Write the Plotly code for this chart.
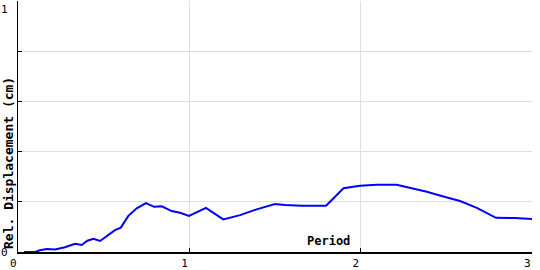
import plotly.graph_objects as go

period = [0.035, 0.1, 0.128, 0.167, 0.216, 0.274, 0.333, 0.372, 0.405, 0.44, 0.479,
          0.537, 0.566, 0.6, 0.644, 0.693, 0.747, 0.794, 0.839, 0.897, 0.946, 0.998,
          1.097, 1.198, 1.296, 1.393, 1.5, 1.559, 1.656, 1.798, 1.9, 1.996, 2.094,
          2.21, 2.288, 2.386, 2.483, 2.58, 2.678, 2.79, 2.9, 3.0]
rel_disp = [0, 0, 0.007, 0.012, 0.01, 0.019, 0.033, 0.028, 0.045, 0.053, 0.044,
            0.073, 0.087, 0.097, 0.144, 0.174, 0.195, 0.18, 0.182, 0.163, 0.156, 0.144,
            0.176, 0.13, 0.147, 0.17, 0.191, 0.187, 0.184, 0.184, 0.254, 0.264, 0.268,
            0.268, 0.256, 0.24, 0.221, 0.203, 0.176, 0.136, 0.135, 0.131]

x_ticks = [0, 1, 2, 3]
x_ticklabels = ["0", "1", "2", "3"]
y_grid = [0, 0.2, 0.4, 0.6, 0.8, 1.0]
y_ticklabels = {"0": 0, "1": 1}

FONT = "DejaVu Sans Mono"

fig = go.Figure()
fig.add_trace(go.Scatter(x=period, y=rel_disp, mode="lines",
                         line=dict(color="#0000FF", width=2), hoverinfo="skip"))

annotations = [
    dict(text="<b>Rel. Displacement (cm)</b>", xref="paper", yref="paper",
         x=-10 / 514, y=1 / 251, xanchor="center", yanchor="bottom", textangle=-90,
         showarrow=False, font=dict(family=FONT, size=13, color="black")),
    dict(text="<b>Period</b>", xref="x", yref="paper", x=1.95, y=11 / 251,
         xanchor="right", yanchor="middle", showarrow=False,
         font=dict(family=FONT, size=12, color="black")),
]
for lbl, val in y_ticklabels.items():
    annotations.append(dict(
        text=lbl, xref="paper", yref="y", x=(-8 if val == 1 else -8) / 514, y=val,
        xanchor="right", yanchor="top" if val == 1 else "middle", showarrow=False,
        font=dict(family=FONT, size=11, color="black")))

fig.update_layout(
    width=540, height=270,
    margin=dict(l=18, r=8, t=1, b=18),
    paper_bgcolor="white", plot_bgcolor="white",
    showlegend=False,
    font=dict(family=FONT, size=11, color="black"),
    annotations=annotations,
    xaxis=dict(range=[0, 3], tickvals=x_ticks, ticktext=x_ticklabels,
               ticks="inside", ticklen=4, tickcolor="black",
               ticklabelposition="outside left",
               showgrid=True, gridcolor="#dddddd", gridwidth=1,
               showline=True, linecolor="black", linewidth=2,
               zeroline=False, fixedrange=True),
    yaxis=dict(range=[0, 1], tickvals=y_grid, showticklabels=False,
               ticks="inside", ticklen=4, tickcolor="black",
               showgrid=True, gridcolor="#dddddd", gridwidth=1,
               showline=True, linecolor="black", linewidth=1,
               zeroline=False, fixedrange=True),
)

fig.write_html("out.html")
